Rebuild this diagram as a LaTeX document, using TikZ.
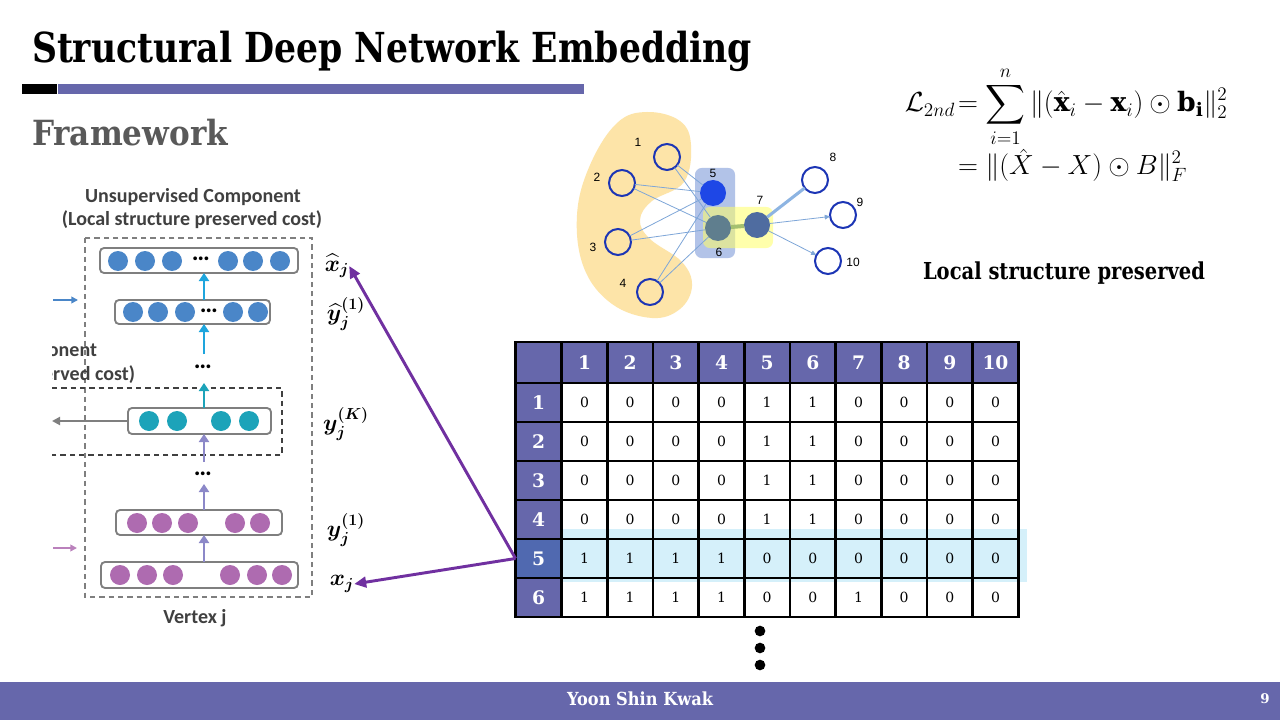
\documentclass[tikz,border=0pt]{standalone}
\usepackage{fontspec}
\setmainfont{DejaVu Serif}
\newfontfamily\carlito{Carlito}
\newfontfamily\arialike{Liberation Sans}
\usepackage{amsmath,bm}
\usetikzlibrary{arrows.meta,calc}

\definecolor{purp}{HTML}{6667AB}
\definecolor{rowfive}{HTML}{5069B0}
\definecolor{bandblue}{HTML}{D5F0FA}
\definecolor{framegray}{HTML}{595959}
\definecolor{labelgray}{HTML}{404040}
\definecolor{layergray}{HTML}{7F7F7F}
\definecolor{dotblue}{HTML}{4A86C8}
\definecolor{dotteal}{HTML}{1CA3B9}
\definecolor{dotpink}{HTML}{AE6BB0}
\definecolor{upcyan}{HTML}{1EA5DD}
\definecolor{uplav}{HTML}{8C88C8}
\definecolor{arrowpurple}{HTML}{7030A0}
\definecolor{blobyellow}{HTML}{FDE4A8}
\definecolor{boxblue}{HTML}{B2C3E8}
\definecolor{boxyellow}{HTML}{FFFF66}
\definecolor{nodeblue}{HTML}{1C35B5}
\definecolor{edgeblue}{HTML}{7EA6D8}
\definecolor{fillfive}{HTML}{1E47E6}
\definecolor{fillsix}{HTML}{5F7E8E}
\definecolor{fillseven}{HTML}{4F6CA0}
\definecolor{thickgreen}{HTML}{A5C070}
\definecolor{thickblue}{HTML}{8DB4E2}

\begin{document}
\begin{tikzpicture}[x=0.75pt,y=-0.75pt,
  every node/.style={inner sep=0pt,outer sep=0pt},
  layer/.style={draw=layergray,line width=1.4pt,rounded corners=3pt,fill=white},
  bdot/.style={circle,fill=dotblue,minimum size=15pt},
  tdot/.style={circle,fill=dotteal,minimum size=15pt},
  pdot/.style={circle,fill=dotpink,minimum size=15pt},
  ell/.style={font=\carlito\bfseries\fontsize{19}{20}\selectfont,text=black},
  lbl/.style={font=\carlito\bfseries\fontsize{15}{18}\selectfont,text=labelgray},
  mlbl/.style={font=\fontsize{17}{19}\selectfont,text=black},
  uparrow/.style={line width=2.2pt,-{Triangle[length=6pt,width=7.5pt]}},
  sidearrow/.style={line width=1.3pt,-{Triangle[length=5pt,width=5pt]}},
  purparrow/.style={draw=arrowpurple,line width=2.2pt,-{Triangle[length=9pt,width=8pt]}},
  hollow/.style={circle,draw=nodeblue,line width=1.5pt,minimum size=19.5pt},
  solid node/.style={circle,minimum size=19.5pt},
  gl/.style={font=\arialike\fontsize{9}{10}\selectfont},
  edge/.style={draw=edgeblue,line width=0.6pt},
  tcell/.style={draw=black,line width=1.9pt,minimum width=34.25pt,minimum height=29.25pt,
    anchor=north west,font=\fontsize{10.5}{12}\selectfont},
  hcell/.style={tcell,fill=purp,text=white,font=\bfseries\fontsize{14}{16}\selectfont},
]
\useasboundingbox (0,0) rectangle (1280,720);
\fill[white] (0,0) rectangle (1280,720);

% ---------- heading ----------
\node[anchor=base west] (title) at (32,63)
  {\resizebox{540pt}{\height}{\fontsize{31}{36}\selectfont\bfseries Structural Deep Network Embedding}};
\fill[black] (22,84) rectangle (57,94);
\fill[purp] (58,84) rectangle (584,94);
\node[anchor=base west,text=framegray] (framework) at (32,146)
  {\resizebox{147pt}{\height}{\fontsize{26}{30}\selectfont\bfseries Framework}};

% ---------- autoencoder sketch ----------
\node[lbl] (unsup) at (193,197) {Unsupervised Component};
\node[lbl] (unsupcost) at (192,220) {(Local structure preserved cost)};
\draw[layergray,line width=1pt,dash pattern=on 4pt off 3pt] (85,238) rectangle (312,597);
\begin{scope}
  \clip (52,330) rectangle (200,390);
  \node[lbl,anchor=east] (supname) at (97,352) {Component};
  \node[lbl,anchor=east] (supcost) at (135,375) {preserved cost)};
\end{scope}
\draw[labelgray,line width=1.1pt,dash pattern=on 4pt off 3pt]
  (52,388) -- (282,388) -- (282,455) -- (52,455);

\coordinate (ax) at (204,0);

% decoder output layer
\node[layer,minimum width=148.5pt,minimum height=18.75pt] (r1) at (199,260.5) {};
\foreach \x [count=\i] in {118,145,172,228,253,280} \node[bdot] (t\i) at (\x,261) {};
\node[ell] (r1dots) at (201,259) {…};
% decoder hidden layer
\node[layer,minimum width=116.25pt,minimum height=18pt] (r2) at (192.5,312) {};
\foreach \x [count=\i] in {133,158,185,233,258} \node[bdot] (s\i) at (\x,312) {};
\node[ell] (r2dots) at (209,311) {…};
\node[ell] (mid1) at (203,367) {…};
% embedding layer
\node[layer,minimum width=107.25pt,minimum height=19.5pt] (r3) at (199.5,421) {};
\foreach \x [count=\i] in {149,177,221,249} \node[tdot] (k\i) at (\x,421) {};
\node[ell] (mid2) at (203,474) {…};
% encoder hidden layer
\node[layer,minimum width=124.5pt,minimum height=18.75pt] (r4) at (199,522.5) {};
\foreach \x [count=\i] in {137,162,188,235,260} \node[pdot] (e\i) at (\x,523) {};
% input layer
\node[layer,minimum width=147.75pt,minimum height=19.5pt] (r5) at (199.5,575) {};
\foreach \x [count=\i] in {120,147,173,230,257,282} \node[pdot] (u\i) at (\x,575) {};
\node[lbl] (vertex) at (195,618) {Vertex j};

\coordinate (m1top) at (204,383);
\coordinate (m1bot) at (204,354);
\coordinate (m2top) at (204,462);
\coordinate (m2bot) at (204,484);
\draw[uparrow,upcyan] (r2.north -| ax) -- (r1.south -| ax);
\draw[uparrow,upcyan] (m1bot) -- (r2.south -| ax);
\draw[uparrow,dotteal] (r3.north -| ax) -- (m1top);
\draw[uparrow,uplav] (m2top) -- (r3.south -| ax);
\draw[uparrow,uplav] (r4.north -| ax) -- (m2bot);
\draw[uparrow,uplav] (r5.north -| ax) -- (r4.south -| ax);

\coordinate (grayend) at (52,421);
\draw[layergray,line width=1.6pt,-{Triangle[length=6pt,width=6pt]}] (r3.west) -- (grayend);
\coordinate (bluestart) at (53,300);
\coordinate (blueend) at (78,300);
\draw[sidearrow,dotblue] (bluestart) -- (blueend);
\coordinate (pinkstart) at (53,548);
\coordinate (pinkend) at (77,548);
\draw[sidearrow,dotpink!85!white] (pinkstart) -- (pinkend);

\node[mlbl] (xhat) at (337,266) {$\bm{\widehat{x}_j}$};
\node[mlbl] (yhat) at (346,314) {$\bm{\widehat{y}_j^{(1)}}$};
\node[mlbl] (yk) at (346,424) {$\bm{y_j^{(K)}}$};
\node[mlbl] (y1) at (346,530) {$\bm{y_j^{(1)}}$};
\node[mlbl] (xj) at (342,584) {$\bm{x_j}$};

% ---------- small graph ----------
\fill[blobyellow] plot[smooth cycle,tension=0.65] coordinates {
  (647,112) (680,121) (691,145) (684,182) (652,201) (640,220) (650,239)
  (682,262) (692,286) (680,309) (652,318) (612,304) (584,268) (577,215)
  (590,165) (617,123)};
\fill[boxblue,rounded corners=5pt] (695,168) rectangle (735,258);
\fill[boxyellow,opacity=0.55,rounded corners=5pt] (703,207) rectangle (773,248);

\node[hollow] (n1) at (667,157) {};
\node[hollow] (n2) at (622,183) {};
\node[hollow] (n3) at (618,242) {};
\node[hollow] (n4) at (650,292) {};
\node[solid node,fill=fillfive] (n5) at (713,193) {};
\node[solid node,fill=fillsix] (n6) at (718,228) {};
\node[solid node,fill=fillseven] (n7) at (757,225) {};
\node[hollow] (n8) at (815,180) {};
\node[hollow] (n9) at (843,215) {};
\node[hollow] (n10) at (828,261) {};

\foreach \a in {1,2,3,4} {
  \draw[edge] (n\a) -- (n5);
  \draw[edge] (n\a) -- (n6);
}
\draw[thickgreen,line width=3pt] (n6) -- (n7);
\draw[thickblue,line width=2.3pt] (n7) -- (n8);
\draw[edge,-{Triangle[length=4pt,width=3.5pt]}] (n7) -- (n9);
\draw[edge,-{Triangle[length=4pt,width=3.5pt]}] (n7) -- (n10);

\node[gl] (g1) at (638,142) {1};
\node[gl] (g2) at (597,177) {2};
\node[gl] (g3) at (593,247) {3};
\node[gl] (g4) at (623,283) {4};
\node[gl] (g5) at (713,173) {5};
\node[gl] (g6) at (719,252) {6};
\node[gl] (g7) at (760,200) {7};
\node[gl] (g8) at (833,157) {8};
\node[gl] (g9) at (860,202) {9};
\node[gl] (g10) at (853,262) {10};

% ---------- loss ----------
\node[anchor=base east,font=\fontsize{20}{24}\selectfont] (lossL) at (955,112) {$\mathcal{L}_{2nd}$};
\node[anchor=base west,font=\fontsize{20}{24}\selectfont] (lossA) at (958,112)
  {$\displaystyle =\sum_{i=1}^{n}\|(\hat{\mathbf{x}}_i-\mathbf{x}_i)\odot\mathbf{b_i}\|_2^2$};
\node[anchor=base west,font=\fontsize{20}{24}\selectfont] (lossB) at (958,175)
  {$\displaystyle =\|(\hat{X}-X)\odot B\|_F^2$};
\node[anchor=base west] (local) at (923,279)
  {\resizebox{211.5pt}{\height}{\fontsize{17.5}{20}\selectfont\bfseries Local structure preserved}};

% ---------- adjacency table ----------
\fill[bandblue] (515,529) rectangle (1027,582);
\node[hcell,minimum width=34.65pt,minimum height=30.75pt] (h0-0) at (515.5,342) {};
\foreach \c in {1,...,10}
  \node[hcell,minimum height=30.75pt] (h0-\c) at ({561.7+(\c-1)*45.66},342) {\c};
\foreach \r/\vals in {1/{0,0,0,0,1,1,0,0,0,0},2/{0,0,0,0,1,1,0,0,0,0},
                      3/{0,0,0,0,1,1,0,0,0,0},4/{0,0,0,0,1,1,0,0,0,0},
                      5/{1,1,1,1,0,0,0,0,0,0},6/{1,1,1,1,0,0,1,0,0,0}} {
  \foreach \v [count=\c] in \vals
    \node[tcell] (d\r-\c) at ({561.7+(\c-1)*45.66},{383+(\r-1)*39}) {\v};
}
\foreach \r/\hc in {1/purp,2/purp,3/purp,4/purp,5/rowfive,6/purp}
  \node[hcell,fill=\hc,minimum width=34.65pt] (h\r) at (515.5,{383+(\r-1)*39}) {\r};

\foreach \i in {1,2,3}
  \node[circle,fill=black,minimum size=8pt] (more\i) at (760,{614+17*\i}) {};

% ---------- links from row 5 to the autoencoder ----------
\draw[purparrow] (h5.west) -- (xj.east);
\draw[purparrow] (h5.west) -- (xhat.east);

% ---------- footer ----------
\fill[purp] (0,682) rectangle (1280,720);
\node[text=white] (author) at (640,699)
  {\resizebox{109.5pt}{\height}{\fontsize{13.5}{16}\selectfont\bfseries Yoon Shin Kwak}};
\node[text=white,font=\bfseries\fontsize{10}{12}\selectfont] (pageno) at (1265,699) {9};
\end{tikzpicture}
\end{document}
